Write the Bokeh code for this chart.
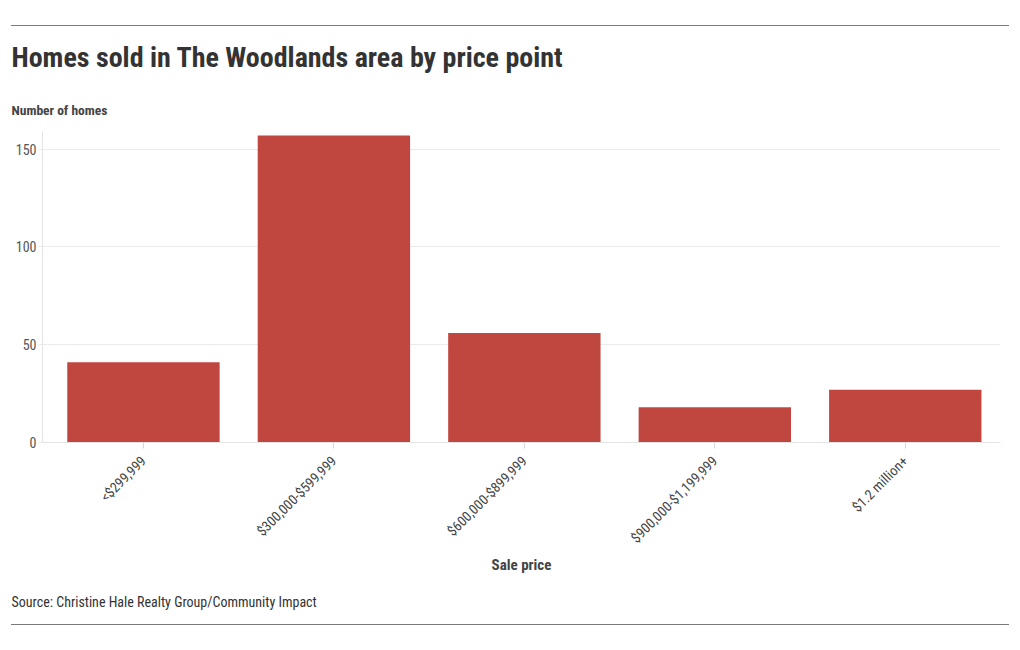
from bokeh.plotting import figure
from bokeh.models import Range1d, FixedTicker, Title
from bokeh.embed import file_html
from bokeh.resources import INLINE

categories = ["<$299,999", "$300,000-$599,999", "$600,000-$899,999", "$900,000-$1,199,999", "$1.2 million+"]
homes = [41, 157, 56, 18, 27]
y_ticks = [0, 50, 100, 150]

title_text = "Homes sold in The Woodlands area by price point"
y_title = "Number of homes"
x_title = "Sale price"
source_text = "Source: Christine Hale Realty Group/Community Impact"

FONT = "'Roboto Condensed', 'Liberation Sans Narrow', 'DejaVu Sans Condensed', Roboto, sans-serif"
BAR = "#c0473f"
GRID = "#ebebeb"

xs = list(range(len(categories)))

p = figure(width=998, height=600, output_backend="svg", toolbar_location=None,
           x_range=Range1d(-0.53, 4.5), y_range=Range1d(0, 159),
           min_border_left=31, min_border_right=9, min_border_top=104, min_border_bottom=184)
p.styles = {"margin-top": "25px", "margin-left": "11px",
            "border-top": "1px solid #7a7a7a", "border-bottom": "1px solid #7a7a7a"}
p.outline_line_color = None
p.background_fill_color = "white"
p.border_fill_color = "white"

p.vbar(x=xs, top=homes, width=0.8, color=BAR, line_color=None)

# axes
p.xaxis.ticker = FixedTicker(ticks=xs)
p.xaxis.major_label_overrides = {i: c for i, c in zip(xs, categories)}
p.xaxis.major_label_orientation = 0.785398
p.xaxis.major_label_text_font = FONT
p.xaxis.major_label_text_font_size = "14px"
p.xaxis.major_label_text_color = "#444444"
p.xaxis.axis_line_color = "#e4e4e4"
p.xaxis.major_tick_line_color = "#d8d8d8"
p.xaxis.major_tick_out = 6
p.xaxis.major_tick_in = 0
p.xaxis.minor_tick_line_color = None
p.xaxis.major_label_standoff = 10
p.xaxis.axis_label = x_title
p.xaxis.axis_label_text_font = FONT
p.xaxis.axis_label_text_font_style = "bold"
p.xaxis.axis_label_text_font_size = "15px"
p.xaxis.axis_label_text_color = "#444444"
p.xaxis.axis_label_standoff = 2

p.yaxis.ticker = FixedTicker(ticks=y_ticks)
p.yaxis.major_label_text_font = FONT
p.yaxis.major_label_text_font_size = "14px"
p.yaxis.major_label_text_color = "#555555"
p.yaxis.axis_line_color = "#e4e4e4"
p.yaxis.major_tick_line_color = GRID
p.yaxis.major_tick_out = 4
p.yaxis.major_tick_in = 0
p.yaxis.minor_tick_line_color = None
p.yaxis.minor_tick_out = 0
p.yaxis.major_label_standoff = 2

p.xgrid.grid_line_color = None
p.ygrid.grid_line_color = GRID
p.ygrid.ticker = FixedTicker(ticks=y_ticks)

# titles above (first added sits nearest the plot)
p.add_layout(Title(text=y_title, align="left", offset=-31, standoff=27,
                   text_font=FONT, text_font_size="13.5px", text_font_style="bold",
                   text_color="#444444"), "above")
p.add_layout(Title(text=title_text, align="left", offset=-31, standoff=25,
                   text_font=FONT, text_font_size="28px", text_font_style="bold",
                   text_color="#333333"), "above")
# source below
p.add_layout(Title(text=source_text, align="left", offset=-31, standoff=29,
                   text_font=FONT, text_font_size="14px", text_font_style="normal",
                   text_color="#333333"), "below")

open("out.html", "w").write(file_html(p, INLINE))
